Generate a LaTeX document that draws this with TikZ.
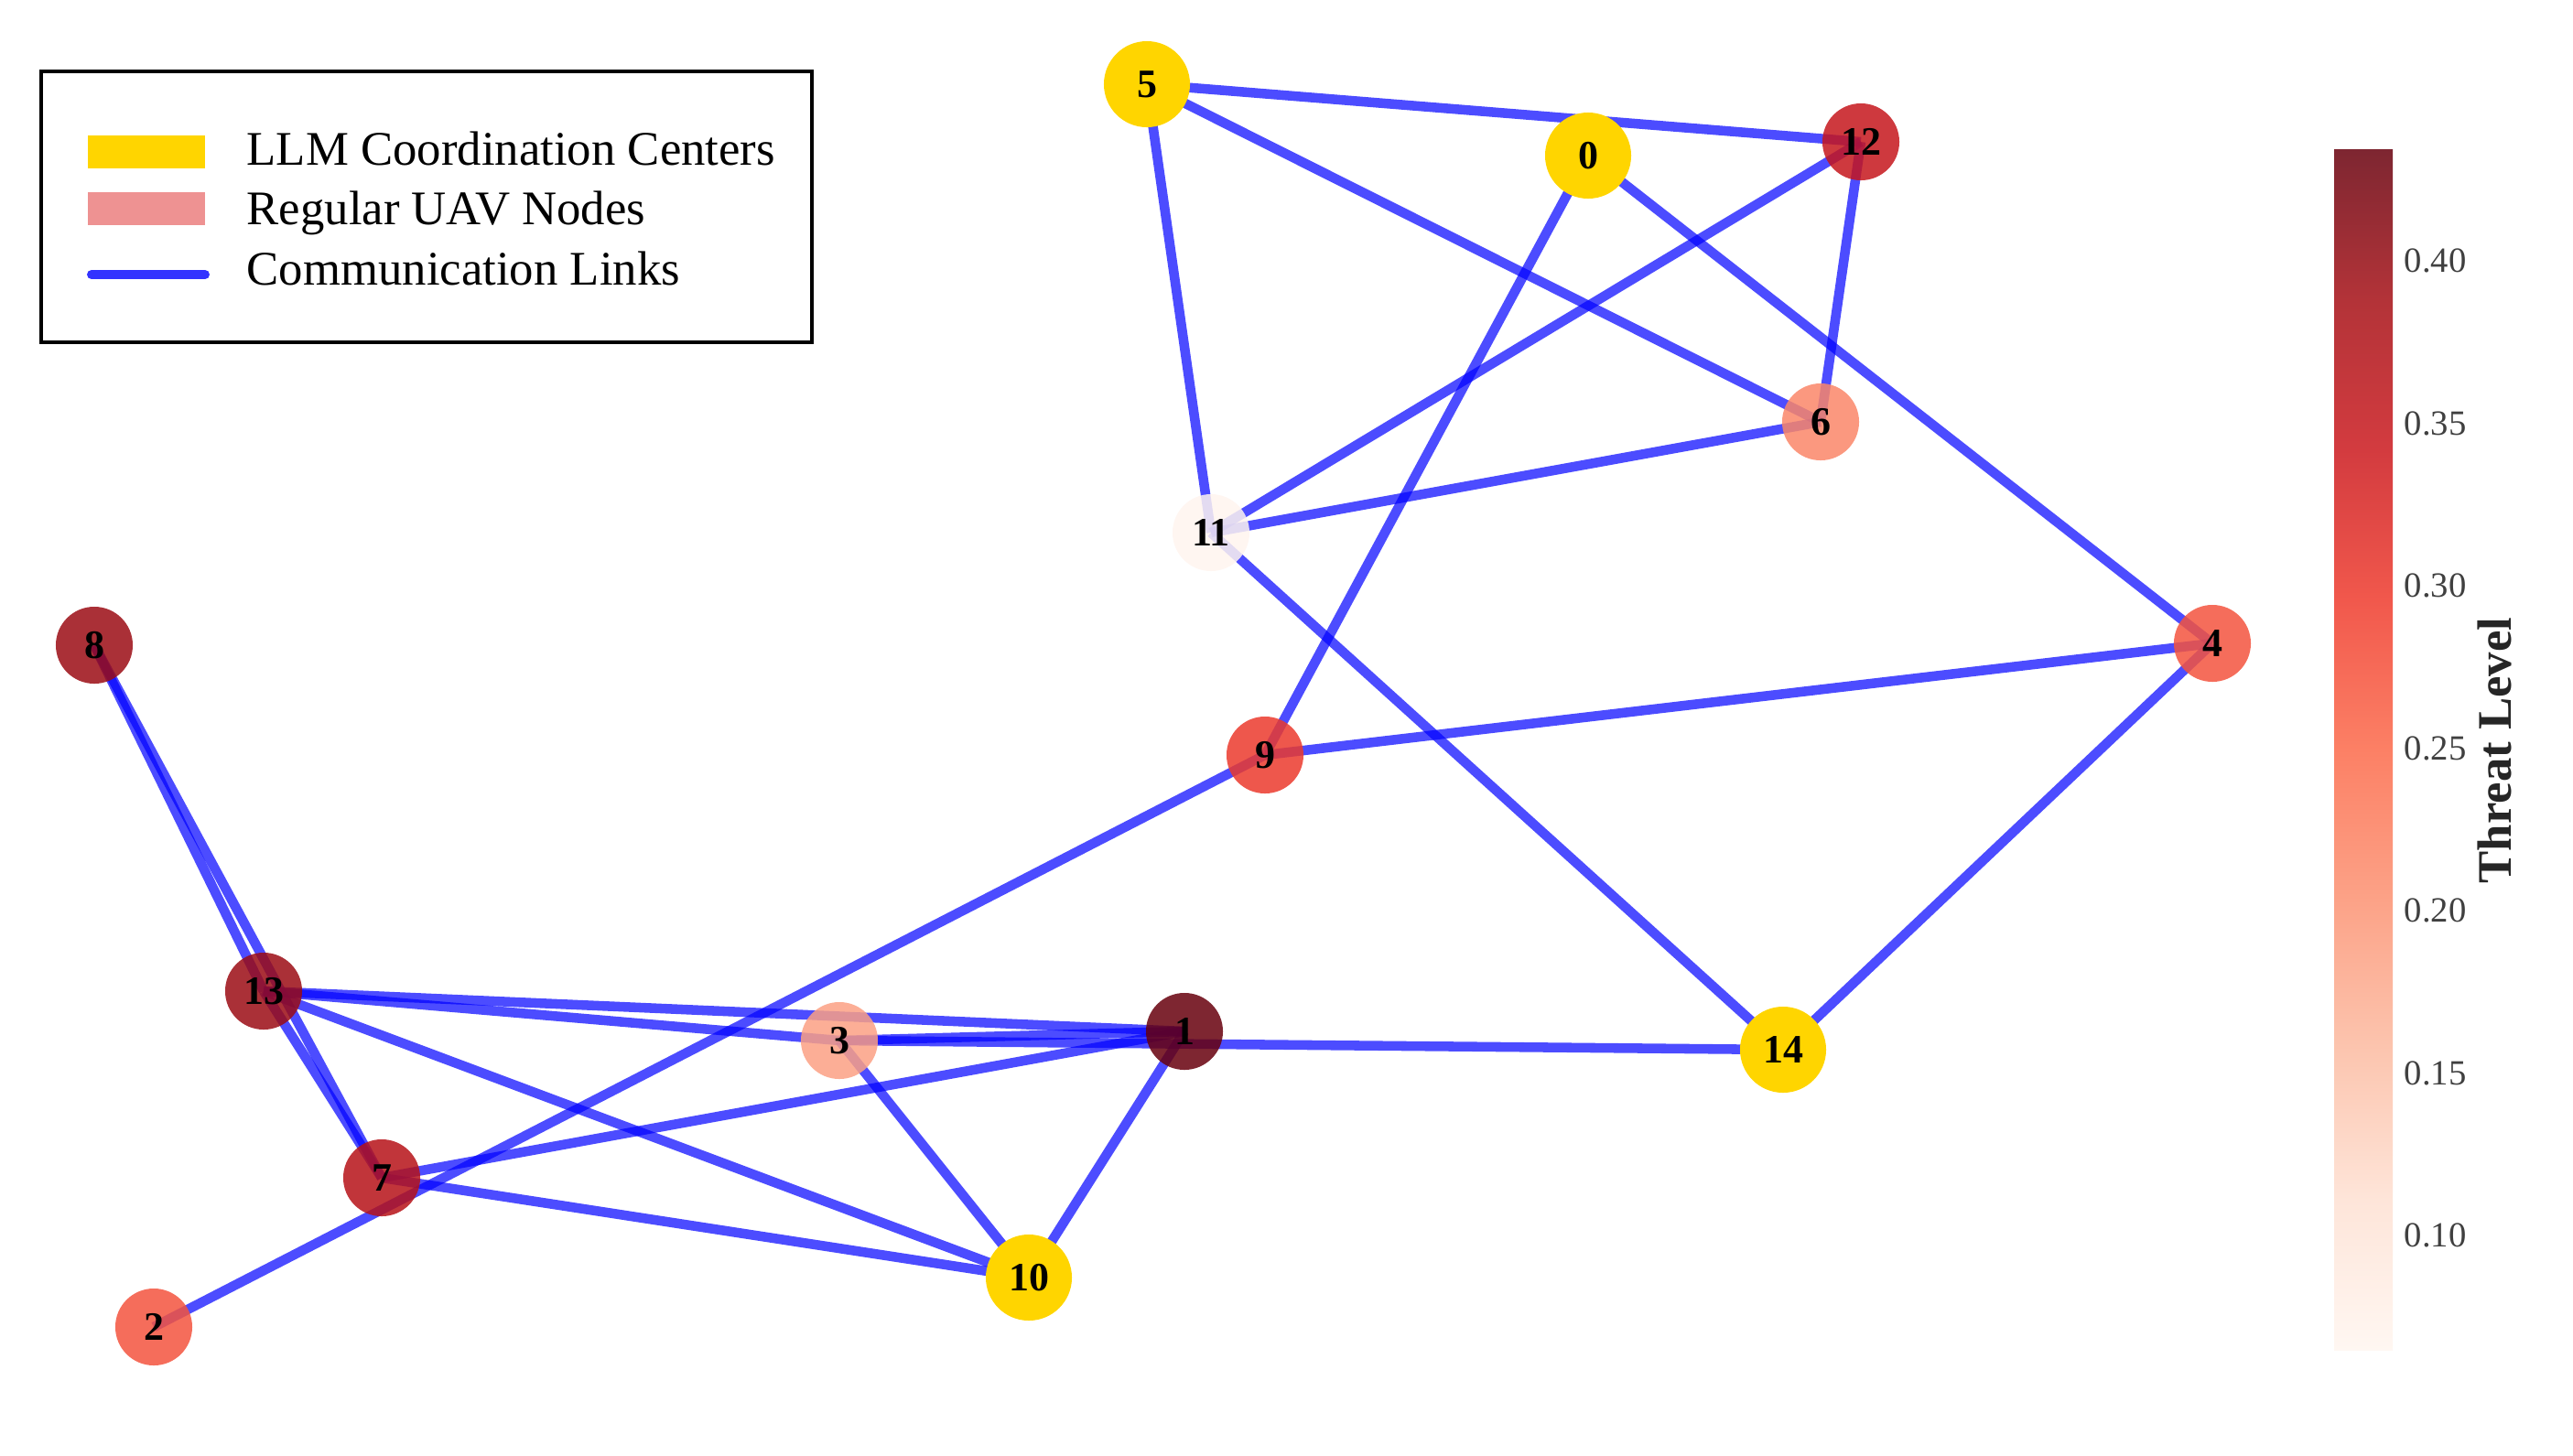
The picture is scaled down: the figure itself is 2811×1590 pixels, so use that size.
\documentclass[tikz,border=0pt]{standalone}
\usepackage{fontspec}
\setmainfont{Liberation Serif}
\usetikzlibrary{positioning,backgrounds}
\definecolor{llmGold}{RGB}{255,213,0}
\definecolor{uavPink}{RGB}{238,146,146}
\definecolor{linkBlue}{RGB}{0,0,255}
\definecolor{tickGray}{RGB}{64,64,64}
% threat colours of the UAV nodes (Reds)
\definecolor{thrA}{RGB}{103,0,13}
\definecolor{thrB}{RGB}{155,12,20}
\definecolor{thrC}{RGB}{182,18,24}
\definecolor{thrD}{RGB}{198,22,28}
\definecolor{thrE}{RGB}{235,58,45}
\definecolor{thrF}{RGB}{243,84,62}
\definecolor{thrG}{RGB}{250,134,104}
\definecolor{thrH}{RGB}{251,160,132}
\definecolor{thrI}{RGB}{255,244,239}
% colour bar stops
\definecolor{cbA}{RGB}{255,247,242}
\definecolor{cbB}{RGB}{254,229,217}
\definecolor{cbC}{RGB}{252,197,175}
\definecolor{cbD}{RGB}{252,162,135}
\definecolor{cbE}{RGB}{252,128,101}
\definecolor{cbF}{RGB}{241,88,76}
\definecolor{cbG}{RGB}{211,59,63}
\definecolor{cbH}{RGB}{179,51,56}
\definecolor{cbI}{RGB}{126,38,49}
\pgfdeclareverticalshading{threatbar}{100bp}{color(0bp)=(cbA); color(25bp)=(cbA);
  color(31.25bp)=(cbB); color(37.5bp)=(cbC); color(43.75bp)=(cbD); color(50bp)=(cbE);
  color(56.25bp)=(cbF); color(62.5bp)=(cbG); color(68.75bp)=(cbH); color(75bp)=(cbI);
  color(100bp)=(cbI)}

\begin{document}
\begin{tikzpicture}[
    x=0.01cm, y=-0.01cm,
    link/.style={draw=linkBlue, draw opacity=0.7, line width=3pt},
    llm/.style={circle, fill=llmGold, minimum size=0.94cm, inner sep=0pt, font=\fontsize{12.5}{14}\selectfont\bfseries},
    uav/.style={circle, fill=#1, fill opacity=0.85, text opacity=1, minimum size=0.84cm, inner sep=0pt, font=\fontsize{12.5}{14}\selectfont\bfseries},
    keytext/.style={anchor=base west, inner sep=0pt, font=\fontsize{15}{18}\selectfont},
    ticklabel/.style={anchor=west, inner sep=0pt, text=tickGray, font=\fontsize{11}{13}\selectfont}
]
  \useasboundingbox (0,0) rectangle (2811,1590);

  \node[llm] (n5) at (1253,92) {5};
  \node[llm] (n0) at (1735,170) {0};
  \node[llm] (n14) at (1948,1147) {14};
  \node[llm] (n10) at (1124,1396) {10};
  \node[uav=thrD] (n12) at (2033,155) {12};
  \node[uav=thrG] (n6) at (1989,461) {6};
  \node[uav=thrI] (n11) at (1323,582) {11};
  \node[uav=thrF] (n4) at (2417,703) {4};
  \node[uav=thrE] (n9) at (1382,825) {9};
  \node[uav=thrB] (n8) at (103,705) {8};
  \node[uav=thrB] (n13) at (288,1083) {13};
  \node[uav=thrH] (n3) at (917,1137) {3};
  \node[uav=thrA] (n1) at (1294,1127) {1};
  \node[uav=thrC] (n7) at (417,1287) {7};
  \node[uav=thrF] (n2) at (168,1450) {2};

  \begin{scope}[on background layer]
    \draw[link] (n5.center) -- (n12.center);
    \draw[link] (n5.center) -- (n6.center);
    \draw[link] (n5.center) -- (n11.center);
    \draw[link] (n0.center) -- (n9.center);
    \draw[link] (n0.center) -- (n4.center);
    \draw[link] (n12.center) -- (n11.center);
    \draw[link] (n12.center) -- (n6.center);
    \draw[link] (n11.center) -- (n6.center);
    \draw[link] (n11.center) -- (n14.center);
    \draw[link] (n9.center) -- (n4.center);
    \draw[link] (n9.center) -- (n2.center);
    \draw[link] (n4.center) -- (n14.center);
    \draw[link] (n8.center) -- (n13.center);
    \draw[link] (n8.center) -- (n7.center);
    \draw[link] (n13.center) -- (n7.center);
    \draw[link] (n13.center) -- (n1.center);
    \draw[link] (n13.center) -- (n3.center);
    \draw[link] (n13.center) -- (n10.center);
    \draw[link] (n3.center) -- (n1.center);
    \draw[link] (n3.center) -- (n14.center);
    \draw[link] (n3.center) -- (n10.center);
    \draw[link] (n7.center) -- (n1.center);
    \draw[link] (n7.center) -- (n10.center);
    \draw[link] (n1.center) -- (n10.center);
  \end{scope}

  % legend
  \node[draw, line width=1.1pt, minimum width=8.42cm, minimum height=2.96cm, inner sep=0pt] (legend) at (466,226) {};
  \node[fill=llmGold, minimum width=1.27cm, minimum height=0.35cm, inner sep=0pt] (keyLLM) at (160,166) {};
  \node[fill=uavPink, minimum width=1.27cm, minimum height=0.36cm, inner sep=0pt] (keyUAV) at (160,228) {};
  \coordinate (keyLinkA) at (100,300);
  \coordinate (keyLinkB) at (224,300);
  \draw[draw=linkBlue, draw opacity=0.8, line width=0.1cm, line cap=round] (keyLinkA) -- (keyLinkB);
  \node[keytext] (txtLLM) at (269,180) {LLM Coordination Centers};
  \node[keytext] (txtUAV) at (269,245) {Regular UAV Nodes};
  \node[keytext] (txtLink) at (269,311) {Communication Links};

  % colour bar
  \node[shade, shading=threatbar, minimum width=0.64cm, minimum height=13.11cm, inner sep=0pt] (cbar) at (2582,819.5) {};
  \node[ticklabel] (t40) at (2626,285) {0.40};
  \node[ticklabel] (t35) at (2626,462.5) {0.35};
  \node[ticklabel] (t30) at (2626,640) {0.30};
  \node[ticklabel] (t25) at (2626,817.5) {0.25};
  \node[ticklabel] (t20) at (2626,995) {0.20};
  \node[ticklabel] (t15) at (2626,1172.5) {0.15};
  \node[ticklabel] (t10) at (2626,1350) {0.10};
  \node[rotate=90, text=black!85, font=\fontsize{15}{18}\selectfont\bfseries] (cbarTitle) at (2725,820) {Threat Level};
\end{tikzpicture}
\end{document}
